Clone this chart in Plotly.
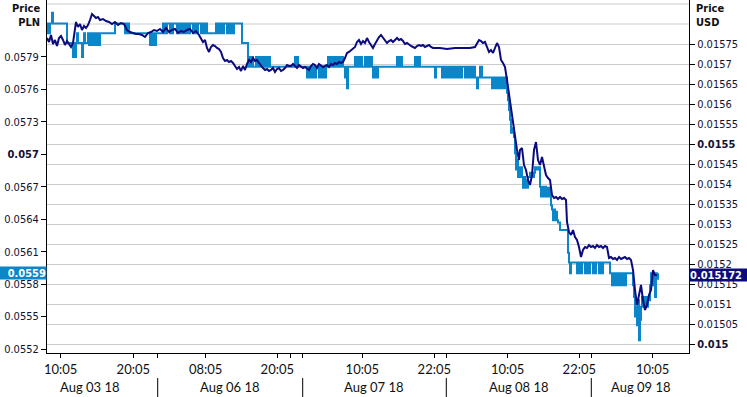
import plotly.graph_objects as go

# ---------------- data ----------------
# bar index (trading-time bars) and prices
BAR_PLN = [0,1,2,3,5,6,20,26,27,28,29,30,31,35,36,37,38,
 41,42,43,44,45,46,47,48,49,50,51,52,53,68,78,79,80,81,82,
 103,104,106,107,108,109,
 116,117,118,119,120,123,124,125,126,130,131,132,133,134,135,136,137,138,139,140,141,142,143,146,147,148,149,150,151,154,155,156,157,158,159,160,
 169,170,171,172,173,174,175,176,177,180,181,182,183,184,185,186,187,
 195,201,
 203,204,205,206,209,210,211,212,213,214,216,217,218,219,220,221,222,223,
 248,249,250,251,
 260,261,262,263,264,265,266,267,268,269,272,273,274,275,276,277,278,279,
 281,282,283,284,285,286,287,288,289,290,291,292,293,294,295,296,
 298,299,300,301,
 308,309,310,311,312,313,314,315,318,319,320,321,322,323,324,325,
 326,327,328,329,330,331,
 350,351,352,353,354,355,
 368,369,370,371,372,373,
 388,389,395,396,397,398,400,401,402,403,404,405,406,407,408,409,410,411,412,413,414,415,418,419,420,421,422,423,424,425,426,427,428,
 430,431,433,435,
 445,446,447,448,450,451,452,453,454,455,457,458,
 460,461,462,463,464,466,467,468,469,470,471,472,473,474,475,476,477,478,479,480,481,483,485,487,488,490,492,493,494,495,496,498,499,500,501,503,504,505,506,507,508,509,510,511,513,521,522,523,524,
 530,531,532,533,534,535,538,539,540,541,542,543,546,547,548,549,552,553,555,556,563,
 565,566,567,568,569,570,571,572,573,574,575,576,578,579,586,
 587,588,589,590,591,592,593,594,595,596,597,598,599,600,601,602,603,604,605,606,607,608,609,610,611]

PRICE_PLN = [0.05812,0.05821,0.05812,0.05821,0.05831,0.05821,0.05803,0.0579,0.05803,0.0579,0.05803,0.05812,0.05803,0.0579,0.05803,0.05812,0.05803,
 0.05812,0.05801,0.05812,0.05801,0.05812,0.05801,0.05812,0.05801,0.05812,0.05801,0.05812,0.05801,0.05812,0.05821,0.05812,0.05821,0.05812,0.05821,0.05812,
 0.05801,0.05812,0.05801,0.05812,0.05801,0.05812,
 0.05821,0.05812,0.05821,0.05812,0.05821,0.05812,0.05821,0.05812,0.05821,0.05812,0.05821,0.05812,0.05821,0.05812,0.05821,0.05812,0.05821,0.05812,0.05821,0.05812,0.05821,0.05812,0.05821,0.05812,0.05821,0.05812,0.05821,0.05812,0.05821,0.05812,0.05821,0.05812,0.05821,0.05812,0.05821,0.05812,
 0.05821,0.05812,0.05821,0.05812,0.05821,0.05812,0.05821,0.05812,0.05821,0.05812,0.05821,0.05812,0.05821,0.05812,0.05821,0.05812,0.05821,
 0.05803,0.05781,
 0.0579,0.05781,0.0579,0.05781,0.0579,0.05781,0.0579,0.05781,0.0579,0.05781,0.0579,0.05781,0.0579,0.05781,0.0579,0.05781,0.0579,0.05781,
 0.0579,0.05781,0.0579,0.05781,
 0.05771,0.05781,0.05771,0.05781,0.05771,0.05781,0.05771,0.05781,0.05771,0.05781,0.05771,0.05781,0.05771,0.05781,0.05771,0.05781,0.05771,0.05781,
 0.0579,0.05781,0.0579,0.05781,0.0579,0.05781,0.0579,0.05781,0.0579,0.05781,0.0579,0.05781,0.0579,0.05781,0.0579,0.05781,
 0.05771,0.05781,0.05761,0.05781,
 0.0579,0.05781,0.0579,0.05781,0.0579,0.05781,0.0579,0.05781,0.0579,0.05781,0.0579,0.05781,0.0579,0.05781,0.0579,0.05781,
 0.05771,0.05781,0.05771,0.05781,0.05771,0.05781,
 0.0579,0.05781,0.0579,0.05781,0.0579,0.05781,
 0.0579,0.05781,0.0579,0.05781,0.0579,0.05781,
 0.05771,0.05781,0.05771,0.05781,0.05771,0.05781,0.05771,0.05781,0.05771,0.05781,0.05771,0.05781,0.05771,0.05781,0.05771,0.05781,0.05771,0.05781,0.05771,0.05781,0.05771,0.05781,0.05771,0.05781,0.05771,0.05781,0.05771,0.05781,0.05771,0.05781,0.05771,0.05781,0.05771,
 0.05761,0.05771,0.05781,0.05771,
 0.05761,0.05771,0.05761,0.05771,0.05761,0.05771,0.05761,0.05771,0.05761,0.05771,0.05761,0.05771,
 0.05757,0.0575,0.05741,0.05732,0.0572,0.05724,0.05716,0.05701,0.05686,0.05695,0.05679,0.05688,0.05679,0.05688,0.05679,0.05669,0.05679,0.05669,0.05676,0.05669,0.05679,0.05683,0.05679,0.05683,0.05688,0.05686,0.05688,0.0567,0.05661,0.0567,0.05661,0.0567,0.05661,0.05669,0.05661,0.05669,0.05653,0.05649,0.05639,0.05649,0.05639,0.05647,0.05639,0.05637,0.0563,0.05609,0.056,0.0559,0.056,
 0.0559,0.056,0.0559,0.056,0.0559,0.056,0.0559,0.056,0.0559,0.056,0.0559,0.056,0.0559,0.056,0.0559,0.056,0.0559,0.056,0.0559,0.056,0.0559,
 0.05579,0.0559,0.05579,0.0559,0.05579,0.0559,0.05579,0.0559,0.05579,0.0559,0.05579,0.0559,0.05579,0.0559,0.05579,
 0.05568,0.0555,0.05559,0.05542,0.05565,0.05528,0.05547,0.05559,0.05568,0.05559,0.05568,0.05559,0.05568,0.05559,0.05568,0.05565,0.05579,0.0559,0.05579,0.0559,0.05579,0.05568,0.0559,0.05585,0.0559]

BAR_USD = [0,2,4,6,8,10,12,14,16,18,20,22,24,26,28,29,31,33,35,37,39,41,43,45,47,49,51,53,56,59,62,65,68,71,74,77,80,83,86,89,92,95,98,101,104,107,110,113,116,119,122,125,128,131,134,137,140,143,146,149,152,154,156,158,160,162,164,166,168,170,172,174,176,178,180,182,184,186,188,190,192,194,196,198,200,202,204,206,208,210,212,214,216,218,220,222,224,226,228,230,232,234,236,238,240,242,244,246,248,250,252,254,256,258,260,262,264,266,268,270,272,274,276,278,280,282,284,286,288,290,292,294,296,298,300,302,304,306,308,310,312,314,316,318,320,322,324,326,328,330,332,334,336,338,340,342,344,346,348,350,352,354,356,358,360,362,364,366,368,370,372,374,376,378,380,382,384,386,393,400,408,415,423,428,430,432,434,436,438,440,442,444,446,448,450,452,454,456,458,460,462,464,466,468,470,472,473,475,477,479,481,483,485,487,489,491,493,495,497,499,501,503,505,507,509,511,513,515,517,519,520,522,524,526,528,530,532,534,536,538,540,542,544,546,548,550,552,554,556,558,560,562,564,566,568,570,572,574,576,578,580,582,584,586,588,590,592,594,596,598,600,602,604,606,608,610]

PRICE_USD = [0.015765,0.015755,0.0157725,0.01575,0.01576,0.015745,0.015765,0.01577,0.01576,0.0157475,0.0157575,0.01575,0.0157425,0.0157525,0.015785,0.015805,0.0157925,0.0158,0.015785,0.015795,0.01579,0.0157975,0.01581,0.015825,0.01582,0.015815,0.0158175,0.01581,0.0158125,0.0158075,0.015805,0.0158,0.015805,0.0157975,0.0158025,0.0158,0.015785,0.01578,0.0157775,0.015775,0.015775,0.0157725,0.0157675,0.0157775,0.01578,0.015785,0.0157825,0.0157875,0.01578,0.01579,0.01578,0.015785,0.0157875,0.0157775,0.0157825,0.01578,0.015785,0.0157875,0.0157775,0.0157825,0.0157725,0.015765,0.015755,0.01576,0.01574,0.01573,0.0157425,0.0157475,0.015745,0.01574,0.0157375,0.01573,0.015715,0.0157075,0.01571,0.015705,0.0157075,0.0157025,0.015695,0.0156875,0.0156925,0.0156825,0.015695,0.015685,0.0157,0.01571,0.015705,0.015715,0.0157075,0.01571,0.0157025,0.015695,0.01569,0.015685,0.0156875,0.0156825,0.015685,0.01569,0.01568,0.0156875,0.01569,0.0156825,0.015685,0.01569,0.0156975,0.015695,0.015695,0.0157,0.015695,0.01569,0.0156975,0.0156925,0.01569,0.0156925,0.0156875,0.015685,0.015695,0.0157,0.0156975,0.01569,0.0157,0.015695,0.0156925,0.015695,0.0156975,0.0156925,0.0157,0.0156975,0.0157025,0.0157,0.015705,0.0157025,0.015705,0.015715,0.0157275,0.01573,0.015735,0.0157375,0.0157425,0.015755,0.01576,0.01575,0.0157575,0.0157525,0.015765,0.015755,0.0157475,0.01574,0.01575,0.01576,0.0157675,0.0157725,0.015765,0.01576,0.0157525,0.0157575,0.01576,0.015755,0.01576,0.015765,0.01576,0.0157625,0.0157575,0.01575,0.0157525,0.0157475,0.015745,0.0157425,0.01574,0.015745,0.0157475,0.015745,0.0157475,0.0157425,0.015745,0.0157475,0.0157425,0.01574,0.01574,0.0157375,0.01574,0.01574,0.01574,0.0157425,0.01575,0.01576,0.0157575,0.0157525,0.015755,0.01574,0.01573,0.015735,0.0157275,0.01574,0.0157525,0.0157425,0.01571,0.0157025,0.0156925,0.01566,0.0156225,0.015585,0.0155475,0.01551,0.015485,0.01546,0.015485,0.01549,0.0154475,0.015435,0.01541,0.0153975,0.0154225,0.015485,0.015505,0.01546,0.0154475,0.0154675,0.0154475,0.0154225,0.015415,0.01541,0.0153725,0.015365,0.0153675,0.0153625,0.0153675,0.0153625,0.015365,0.01536,0.015305,0.01528,0.0152725,0.015285,0.0152675,0.01526,0.0152425,0.0152175,0.015235,0.0152425,0.01524,0.0152475,0.0152425,0.015245,0.01524,0.0152475,0.0152425,0.015245,0.01524,0.015245,0.0152425,0.015215,0.0152175,0.0152125,0.015215,0.01521,0.0152175,0.0152125,0.015215,0.0152175,0.0152125,0.015215,0.01521,0.015185,0.015135,0.0150975,0.0151225,0.0151475,0.01511,0.015085,0.0150975,0.0151225,0.015135,0.015185,0.0151725,0.015172]

# axis ticks
PLN_TICKS = [0.0552, 0.0555, 0.0558, 0.0561, 0.0564, 0.0567, 0.057, 0.0573, 0.0576, 0.0579]
PLN_TICK_TEXT = ["0.0552", "0.0555", "0.0558", "0.0561", "0.0564", "0.0567", "<b>0.057</b>", "0.0573", "0.0576", "0.0579"]
USD_TICKS = [0.015, 0.01505, 0.0151, 0.01515, 0.0152, 0.01525, 0.0153, 0.01535, 0.0154, 0.01545,
             0.0155, 0.01555, 0.0156, 0.01565, 0.0157, 0.01575]
USD_TICK_TEXT = ["<b>0.015</b>", "0.01505", "0.0151", "0.01515", "0.0152", "0.01525", "0.0153", "0.01535",
                 "0.0154", "0.01545", "<b>0.0155</b>", "0.01555", "0.0156", "0.01565", "0.0157", "0.01575"]
USD_EXTRA_GRID = [0.0158, 0.01585]
TIME_TICKS = [13.7, 86.3, 110.7, 158.7, 230.3, 243.7, 255.7, 315.3, 387.3, 399.3, 460.7, 532.3, 544.3, 605.7]
TIME_TICK_TEXT = ["10:05", "20:05", "", "08:05", "20:05", "", "", "10:05", "22:05", "", "10:05", "22:05", "", "10:05"]
DAY_BREAKS = [110.7, 255.7, 399.3, 544.3]
DAY_LABELS = ["Aug 03 18", "Aug 06 18", "Aug 07 18", "Aug 08 18", "Aug 09 18"]
DAY_LABEL_POS = [42.5, 182.5, 326, 471.5, 593]
LAST_PLN = 0.0559
LAST_USD = 0.015172

# ---------------- style ----------------
C_PLN = "#0A86C9"
C_USD = "#0B0B7E"
TICK_FONT = dict(family="Tahoma, 'DejaVu Sans Condensed', 'Liberation Sans', sans-serif", size=11, color="#111133")
X_FONT = dict(family="Lato, 'Open Sans', sans-serif", size=13, color="#111111")

fig = go.Figure()
fig.add_trace(go.Scatter(x=BAR_PLN, y=PRICE_PLN, mode="lines", line=dict(color=C_PLN, width=2, shape="hv"),
                         yaxis="y", showlegend=False, hoverinfo="skip"))
fig.add_trace(go.Scatter(x=BAR_USD, y=PRICE_USD, mode="lines", line=dict(color=C_USD, width=2),
                         yaxis="y2", showlegend=False, hoverinfo="skip"))

fig.update_layout(
    width=747, height=397,
    margin=dict(l=47, r=58, t=0, b=44),
    paper_bgcolor="white", plot_bgcolor="white",
    xaxis=dict(range=[0, 642], tickmode="array", tickvals=TIME_TICKS, ticktext=TIME_TICK_TEXT,
               ticks="outside", ticklen=4, tickcolor="black", showline=True, linecolor="black",
               linewidth=1, showgrid=False, zeroline=False, tickfont=X_FONT),
    yaxis=dict(range=[0.055163, 0.058427], tickmode="array", tickvals=PLN_TICKS, ticktext=PLN_TICK_TEXT,
               ticks="outside", ticklen=5, tickcolor="black", showline=True, linecolor="black",
               linewidth=1, showgrid=False, zeroline=False, tickfont=TICK_FONT),
    yaxis2=dict(range=[0.0149775, 0.01586], overlaying="y", side="right", tickmode="array",
                tickvals=USD_TICKS, ticktext=USD_TICK_TEXT, ticks="outside", ticklen=5, tickcolor="black",
                showline=True, linecolor="black", linewidth=1, showgrid=True, gridcolor="#CCCCCC",
                gridwidth=1, zeroline=False, tickfont=TICK_FONT),
)

shapes = []
for g in USD_EXTRA_GRID:
    shapes.append(dict(type="line", xref="paper", x0=0, x1=1, yref="y2", y0=g, y1=g,
                       line=dict(color="#CCCCCC", width=1), layer="below"))
for d in DAY_BREAKS:
    shapes.append(dict(type="line", xref="x", x0=d, x1=d, yref="paper", y0=-0.071, y1=-0.125,
                       line=dict(color="black", width=1)))
fig.update_layout(shapes=shapes)

ann = []
for lab, pos in zip(DAY_LABELS, DAY_LABEL_POS):
    ann.append(dict(text=lab, x=pos, xref="x", y=-0.096, yref="paper", showarrow=False,
                    xanchor="center", yanchor="middle", font=X_FONT))
ann.append(dict(text="<b>Price</b><br><b>PLN</b>", x=0, xref="paper", xshift=-5, y=1, yref="paper",
                xanchor="right", yanchor="top", align="right", showarrow=False,
                font=dict(family=TICK_FONT["family"], size=11, color="#111111")))
ann.append(dict(text="<b>Price</b><br><b>USD</b>", x=1, xref="paper", xshift=5, y=1, yref="paper",
                xanchor="left", yanchor="top", align="left", showarrow=False,
                font=dict(family=TICK_FONT["family"], size=11, color="#111111")))
ann.append(dict(text="<b>%s</b>" % LAST_PLN, x=0, xref="paper", y=LAST_PLN, yref="y",
                xanchor="right", yanchor="middle", align="right", showarrow=False,
                bgcolor=C_PLN, borderpad=0, width=46, height=12,
                font=dict(family=TICK_FONT["family"], size=11, color="white")))
ann.append(dict(text="<b>%s</b>" % LAST_USD, x=1, xref="paper", y=LAST_USD, yref="y2",
                xanchor="left", yanchor="middle", align="left", showarrow=False,
                bgcolor=C_USD, borderpad=0, width=57, height=12,
                font=dict(family=TICK_FONT["family"], size=11, color="white")))
fig.update_layout(annotations=ann)

fig.write_html("out.html")
